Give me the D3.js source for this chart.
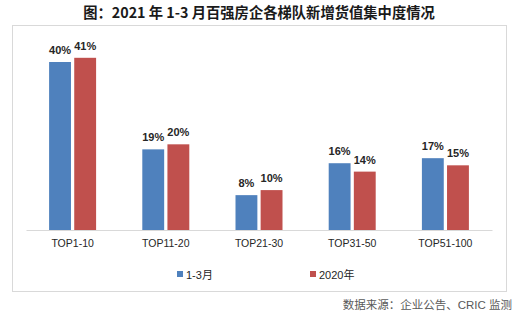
<!DOCTYPE html>
<html><head><meta charset="utf-8">
<script src="https://cdn.jsdelivr.net/npm/d3@7"></script>
<style>body{margin:0;background:#fff}svg{display:block}</style>
</head><body>
<svg id="c" width="520" height="324"></svg>
<script>
const categories = ["TOP1-10","TOP11-20","TOP21-30","TOP31-50","TOP51-100"];
const seriesNames = ["1-3月","2020年"];
const q1Values = [40,19.2,8.3,15.9,17.1];
const y2020Values = [41,20.4,9.5,13.9,15.4];
const colors = ["#4F81BD","#C0504D"];
const title = "图：2021 年 1-3 月百强房企各梯队新增货值集中度情况";
const source = "数据来源：企业公告、CRIC 监测";

const svg = d3.select("#c");
const font = "'Liberation Sans','Noto Sans CJK SC',sans-serif";

svg.append("text").attr("x",259).attr("y",18).attr("text-anchor","middle")
  .attr("font-family","'Noto Sans CJK SC',sans-serif").attr("font-weight","bold")
  .attr("font-size",14.3).attr("fill","#1a1a1a").text(title);

svg.append("rect").attr("x",12.5).attr("y",25.5).attr("width",494).attr("height",266)
  .attr("fill","none").attr("stroke","#D9D9D9");

const x0 = d3.scaleBand().domain(categories).range([26,492]);
const x1 = d3.scaleBand().domain([0,1]).range([0,47]).paddingInner(0.13);
const y = d3.scaleLinear().domain([0,40]).range([230,62]);

const data = categories.map((c,i)=>({c, v:[q1Values[i], y2020Values[i]]}));

const g = svg.append("g");
data.forEach(d=>{
  const cx = x0(d.c) + x0.bandwidth()/2 - 23.5;
  d.v.forEach((v,k)=>{
    g.append("rect").attr("x",cx + x1(k)).attr("y",y(v))
      .attr("width",x1.bandwidth()).attr("height",y(0)-y(v)).attr("fill",colors[k]);
    g.append("text").attr("x",cx + x1(k) + x1.bandwidth()/2).attr("y",y(v)-8)
      .attr("text-anchor","middle").attr("font-family",font).attr("font-weight","bold")
      .attr("font-size",11).attr("fill","#262626").text(Math.round(v)+"%");
  });
});

const ax = svg.append("g").attr("transform","translate(0,230)")
  .call(d3.axisBottom(x0).tickSize(0).tickPadding(10));
ax.select(".domain").attr("stroke","#D9D9D9");
ax.selectAll("text").attr("font-family",font).attr("font-size",10.5).attr("fill","#262626");

const leg = svg.append("g");
const lx = [177,310];
seriesNames.forEach((n,k)=>{
  leg.append("rect").attr("x",lx[k]).attr("y",271).attr("width",6).attr("height",6).attr("fill",colors[k]);
  leg.append("text").attr("x",lx[k]+9).attr("y",278.5).attr("font-family",font)
    .attr("font-size",11).attr("fill","#262626").text(n);
});

svg.append("text").attr("x",512).attr("y",309).attr("text-anchor","end")
  .attr("font-family",font).attr("font-size",11.5).attr("fill","#595959").text(source);
</script>
</body></html>
